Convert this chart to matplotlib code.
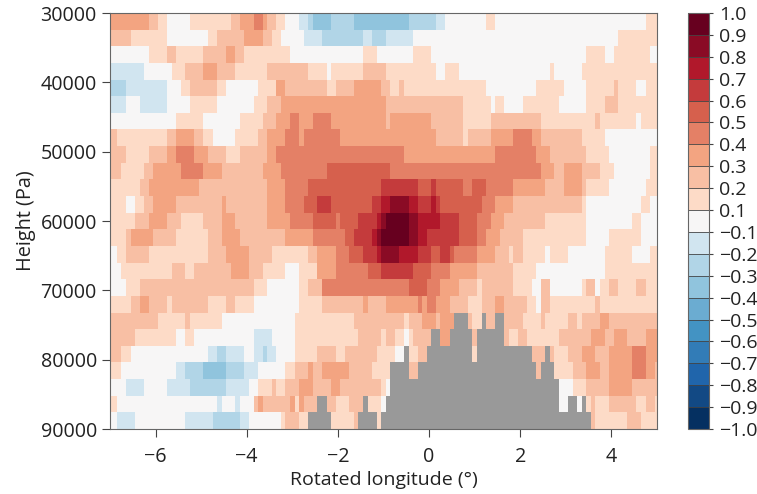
import numpy as np
import matplotlib
matplotlib.use('Agg')
import matplotlib.pyplot as plt
from matplotlib.colors import ListedColormap, BoundaryNorm

plt.rcParams['font.family'] = ['Open Sans', 'DejaVu Sans']

X = None  # no data, drawn grey (below the ground)

# each row, top to bottom: (colour class, column where this run stops)
# class k means a value between 0.1*k and 0.1*(k+1), class 0 is -0.1 to 0.1
row00 = [(3,9),(2,11),(1,13),(0,18),(1,27),(2,29),(3,32),(4,34),(3,35),(2,37),(1,39),(0,42),(-1,44),(-2,45),(-3,49),(-2,54),(-3,66),(-2,72),(-1,74),(0,83),(1,85),(0,118),(1,121)]
row01 = [(2,5),(1,13),(0,22),(1,24),(2,30),(3,34),(2,36),(1,38),(0,43),(-1,47),(-2,56),(-1,58),(-2,61),(-1,67),(0,112),(1,121)]
row02 = [(0,9),(1,13),(2,15),(1,21),(2,26),(3,28),(2,30),(1,40),(0,56),(1,59),(0,67),(1,71),(0,105),(1,109),(0,111),(1,119),(0,121)]
row03 = [(-1,8),(0,14),(1,17),(2,21),(3,24),(2,28),(1,35),(2,44),(1,48),(0,49),(1,56),(2,61),(1,72),(0,74),(1,77),(0,97),(1,98),(0,104),(1,121)]
row04 = [(-2,4),(-1,13),(0,16),(1,18),(2,24),(1,26),(0,33),(1,37),(3,39),(2,48),(1,50),(2,54),(3,60),(2,62),(1,64),(2,65),(1,83),(0,94),(1,100),(0,105),(1,111),(2,112),(1,116),(0,118),(1,121)]
row05 = [(-1,4),(0,7),(-1,13),(0,18),(1,24),(0,32),(1,35),(2,38),(3,61),(2,78),(1,84),(0,85),(1,87),(0,91),(1,99),(0,105),(1,109),(2,112),(1,121)]
row06 = [(0,15),(1,21),(0,29),(1,34),(2,37),(3,40),(4,42),(3,45),(4,49),(3,61),(2,62),(3,71),(2,78),(1,84),(2,95),(1,107),(2,108),(1,116),(0,117),(1,121)]
row07 = [(2,2),(1,13),(2,15),(3,19),(2,21),(1,23),(0,28),(1,33),(2,35),(3,39),(4,42),(3,43),(4,51),(3,72),(2,78),(1,79),(2,84),(3,89),(4,93),(3,95),(2,104),(1,109),(0,121)]
row08 = [(2,4),(1,9),(2,13),(3,15),(4,19),(3,22),(2,26),(1,29),(2,35),(3,37),(4,65),(3,85),(4,94),(3,97),(2,105),(1,110),(0,119),(1,121)]
row09 = [(2,3),(1,8),(2,10),(3,16),(4,21),(3,25),(2,34),(3,38),(4,48),(5,62),(4,95),(3,98),(2,100),(3,104),(2,108),(1,111),(0,119),(1,121)]
row10 = [(1,7),(2,9),(3,20),(2,35),(3,39),(4,44),(5,60),(6,68),(5,71),(6,72),(5,78),(4,80),(5,83),(4,89),(3,96),(2,100),(3,104),(2,105),(1,110),(0,118),(1,121)]
row11 = [(1,4),(0,6),(1,8),(2,10),(3,15),(2,25),(3,26),(2,35),(3,39),(4,43),(5,46),(6,49),(5,58),(6,60),(7,62),(8,66),(7,68),(6,71),(7,72),(6,73),(5,82),(4,85),(3,89),(2,104),(1,105),(0,117),(1,119),(0,121)]
row12 = [(1,6),(2,9),(3,13),(2,16),(1,21),(2,25),(3,28),(2,35),(3,40),(4,45),(5,50),(4,51),(5,55),(6,59),(7,60),(8,61),(9,66),(8,68),(7,73),(6,77),(5,81),(4,84),(3,87),(2,96),(1,105),(0,115),(1,117),(0,121)]
row13 = [(1,4),(2,5),(3,10),(2,15),(1,22),(2,25),(3,29),(2,39),(3,45),(4,52),(5,54),(6,58),(7,59),(8,60),(9,66),(8,68),(7,70),(6,77),(5,81),(4,83),(3,86),(2,91),(1,105),(0,110),(1,117),(0,121)]
row14 = [(0,2),(1,4),(2,9),(1,22),(2,26),(3,31),(2,36),(1,44),(2,46),(3,50),(4,53),(5,56),(6,59),(7,60),(8,64),(7,68),(6,71),(5,73),(6,75),(5,76),(4,81),(3,85),(2,88),(1,89),(2,91),(1,96),(0,97),(1,101),(0,109),(1,115),(0,119),(1,121)]
row15 = [(0,3),(1,14),(2,17),(1,19),(2,27),(3,31),(2,34),(1,39),(0,42),(1,46),(3,50),(4,57),(5,60),(6,67),(5,71),(4,75),(3,81),(2,89),(1,94),(0,109),(1,121)]
row16 = [(0,4),(1,7),(2,32),(1,35),(0,42),(1,44),(2,47),(4,66),(5,70),(4,73),(3,77),(2,81),(1,82),(2,89),(1,93),(0,95),(2,97),(0,104),(1,105),(2,107),(0,108),(1,110),(2,112),(1,116),(2,118),(1,121)]
row17 = [(1,5),(2,7),(3,9),(2,13),(1,14),(2,22),(1,26),(2,28),(1,32),(0,42),(1,47),(2,56),(3,57),(2,61),(3,68),(4,69),(3,70),(4,72),(3,75),(2,79),(1,82),(2,85),(3,87),(2,92),(1,94),(0,95),(2,97),(1,107),(2,108),(1,121)]
row18 = [(2,11),(1,17),(2,18),(1,25),(0,41),(1,54),(2,65),(1,66),(2,69),(3,72),(2,73),(3,76),(X,79),(2,80),(1,82),(X,83),(2,85),(X,87),(2,91),(1,95),(2,96),(1,101),(2,103),(1,104),(2,108),(3,110),(2,121)]
row19 = [(2,6),(1,15),(0,17),(1,19),(0,32),(-1,36),(0,41),(1,55),(2,60),(1,61),(2,63),(1,65),(0,66),(1,67),(2,71),(X,73),(3,75),(X,80),(2,81),(X,87),(2,88),(1,90),(2,92),(1,99),(2,106),(3,109),(2,111),(3,114),(2,118),(3,121)]
row20 = [(2,3),(1,5),(0,22),(-1,24),(-2,26),(-1,30),(0,32),(-1,34),(-2,35),(-1,37),(0,41),(1,46),(2,50),(1,52),(2,59),(1,63),(0,65),(X,66),(1,68),(2,70),(X,80),(1,81),(X,93),(2,96),(X,97),(2,98),(1,101),(2,104),(3,107),(2,110),(3,115),(4,118),(3,121)]
row21 = [(1,3),(0,15),(-1,17),(-2,21),(-3,26),(-2,30),(-1,33),(0,39),(1,41),(2,44),(3,45),(2,47),(3,53),(2,58),(1,62),(X,66),(2,68),(X,94),(2,95),(X,98),(1,102),(2,105),(3,108),(2,110),(3,115),(4,118),(3,120),(2,121)]
row22 = [(0,4),(-1,8),(0,13),(-1,18),(-2,26),(-1,31),(0,33),(1,36),(2,37),(1,39),(2,42),(3,45),(2,49),(3,51),(2,60),(1,61),(0,62),(X,99),(0,102),(1,105),(2,110),(3,115),(2,121)]
row23 = [(1,2),(0,24),(-1,25),(0,28),(-1,29),(0,32),(2,33),(3,34),(2,40),(3,41),(1,42),(3,43),(2,46),(X,48),(2,50),(1,53),(2,56),(X,57),(1,60),(0,61),(X,99),(0,101),(X,103),(0,104),(X,105),(1,106),(2,107),(1,110),(2,116),(1,118),(2,120),(1,121)]
row24 = [(0,2),(-1,6),(0,17),(-1,23),(-2,29),(-1,31),(0,38),(1,39),(2,42),(1,44),(X,49),(1,54),(2,55),(X,59),(1,60),(X,106),(2,107),(1,114),(2,117),(1,121)]

rows = [row00, row01, row02, row03, row04, row05, row06, row07, row08, row09, row10, row11, row12,
        row13, row14, row15, row16, row17, row18, row19, row20, row21, row22, row23, row24]

lon_ticks = [-6, -4, -2, 0, 2, 4]
height_ticks = [30000, 40000, 50000, 60000, 70000, 80000, 90000]
levels = [-1.0, -0.9, -0.8, -0.7, -0.6, -0.5, -0.4, -0.3, -0.2, -0.1,
          0.1, 0.2, 0.3, 0.4, 0.5, 0.6, 0.7, 0.8, 0.9, 1.0]


def class_to_value(k):
    # middle of the colour class
    if k is None:
        return np.nan
    if k == 0:
        return 0.0
    return np.sign(k) * (abs(k) * 0.1 + 0.05)


data = np.full((len(rows), 121), np.nan)
for i, row in enumerate(rows):
    start = 0
    for k, stop in row:
        data[i, start:stop] = class_to_value(k)
        start = stop
data = np.ma.masked_invalid(data)

# grid: 0.1 deg columns, half cells cut at both sides
lon_edges = np.arange(122) * 0.1 - 7.05
height_edges = np.linspace(30000, 90000, len(rows) + 1)

# colours: RdBu_r, white class in the middle then every second step
positions = [0.0, .05, .1, .15, .2, .25, .3, .35, .4, .5, .6, .65, .7, .75, .8, .85, .9, .95, 1.0]
cmap = ListedColormap([plt.get_cmap('RdBu_r')(p) for p in positions])
cmap.set_bad('#999999')
norm = BoundaryNorm(levels, cmap.N)

fig = plt.figure(figsize=(7.57, 4.94), dpi=100)
ax = fig.add_axes([110 / 757, 1 - 429 / 494, 547 / 757, 416 / 494])
mesh = ax.pcolormesh(lon_edges, height_edges, data, cmap=cmap, norm=norm)
ax.set_xlim(-7, 5)
ax.set_ylim(90000, 30000)
ax.set_xticks(lon_ticks)
ax.set_yticks(height_ticks)
ax.tick_params(labelsize=14.2, length=6, color='#444444', labelcolor='#222222')
ax.tick_params(axis='x', pad=7)
ax.set_xlabel('Rotated longitude (°)', fontsize=14, color='#222222', labelpad=3)
ax.set_ylabel('Height (Pa)', fontsize=14.3, color='#222222', labelpad=3)
for s in ax.spines.values():
    s.set_color('#666666')

cax = fig.add_axes([688 / 757, 1 - 429 / 494, 21 / 757, 416 / 494])
cb = fig.colorbar(mesh, cax=cax, ticks=levels, drawedges=True)
cb.dividers.set_color('#444444')
cb.dividers.set_linewidth(0.6)
cb.outline.set_edgecolor('#666666')
cb.ax.set_yticklabels([('%.1f' % v).replace('-', '\u2212') for v in levels])
cb.ax.tick_params(labelsize=14, length=3, pad=4, color='#444444', labelcolor='#222222')

fig.savefig('out.png', dpi=100)
